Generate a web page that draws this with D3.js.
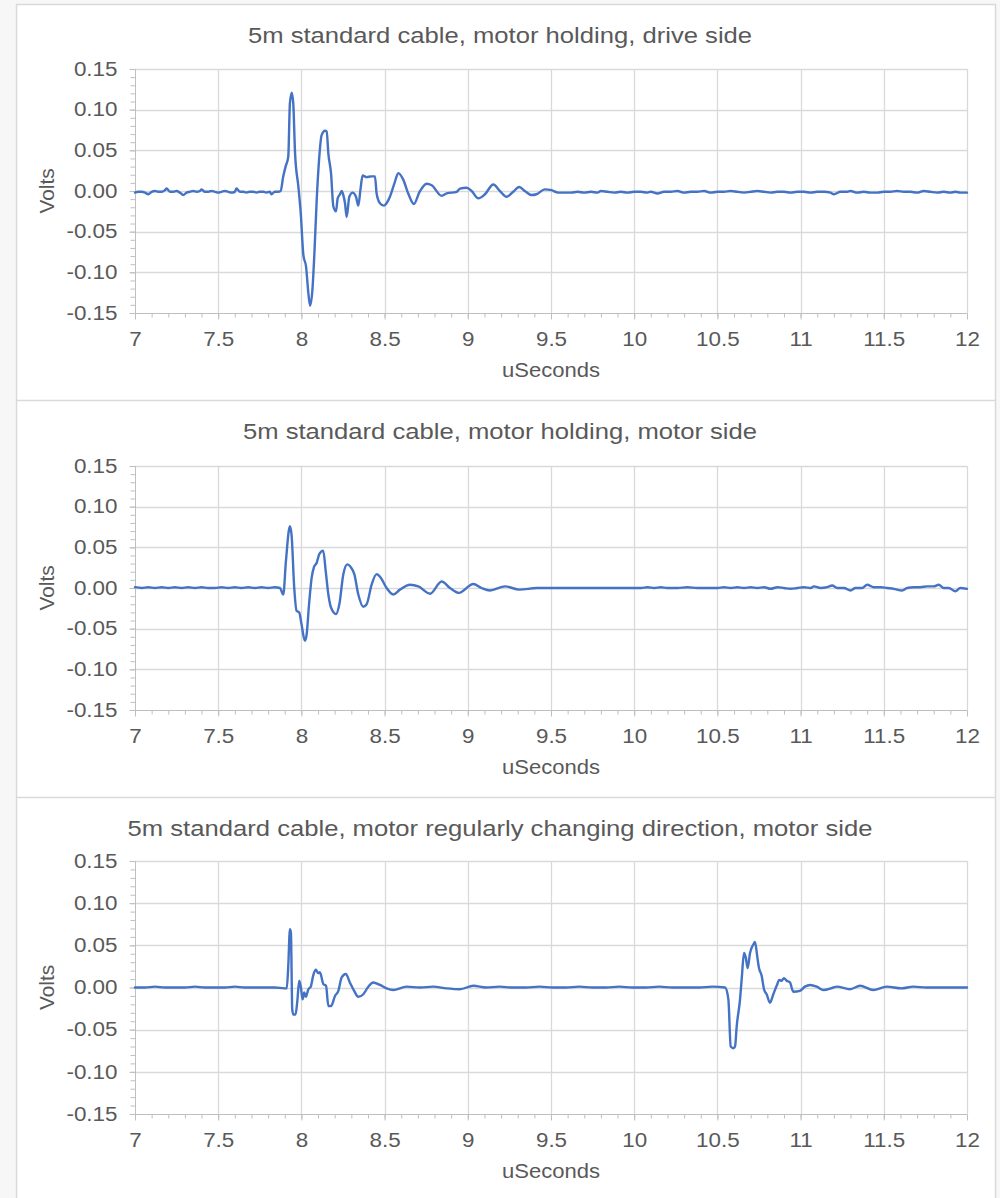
<!DOCTYPE html>
<html>
<head>
<meta charset="utf-8">
<script src="https://cdn.jsdelivr.net/npm/d3@7"></script>
<style>
  html, body { margin: 0; padding: 0; background: #f7f7f7; }
  svg { display: block; }
  text { font-family: "Liberation Sans", Arial, sans-serif; fill: #595959; }
</style>
</head>
<body>
<svg id="chart" width="1000" height="1198"></svg>
<script>
// ---------------- DATA ----------------
const chartTitles = [
  "5m standard cable, motor holding, drive side",
  "5m standard cable, motor holding, motor side",
  "5m standard cable, motor regularly changing direction, motor side"
];
const xAxisTitle = "uSeconds";
const yAxisTitle = "Volts";
const xTicks = [7, 7.5, 8, 8.5, 9, 9.5, 10, 10.5, 11, 11.5, 12];
const xTickLabels = ["7", "7.5", "8", "8.5", "9", "9.5", "10", "10.5", "11", "11.5", "12"];
const yTicks = [-0.15, -0.10, -0.05, 0.00, 0.05, 0.10, 0.15];
const yTickLabels = ["-0.15", "-0.10", "-0.05", "0.00", "0.05", "0.10", "0.15"];

// Series 1: drive side, motor holding
const s1Time = [
  7.00,7.02,7.04,7.06,7.08,7.10,7.12,7.14,7.16,7.18,7.19,7.21,7.23,7.25,7.27,7.29,7.31,7.33,7.35,7.37,
  7.39,7.40,7.42,7.44,7.46,7.48,7.50,7.52,7.54,7.56,7.58,7.60,7.61,7.63,7.65,7.67,7.69,7.71,7.73,7.75,
  7.77,7.79,7.81,7.82,7.84,7.86,7.875,
  7.891,7.905,7.921,7.931,7.942,7.951,7.962,7.982,7.996,8.012,8.028,8.042,8.052,8.066,8.078,8.092,8.106,8.122,
  8.142,8.152,8.162,8.178,8.192,8.208,8.218,8.232,8.242,8.252,8.262,8.272,8.288,8.308,8.328,8.342,8.355,8.368,
  8.392,8.420,8.442,8.452,8.472,8.496,8.515,8.532,8.560,8.582,8.612,8.642,8.676,8.710,8.753,8.783,8.843,8.873,
  8.933,8.953,8.993,9.023,9.063,9.103,9.153,9.193,9.233,9.273,9.309,9.343,9.383,9.413,9.463,9.503,9.543,
  9.58,9.62,9.66,9.70,9.74,9.78,9.80,9.84,9.88,9.92,9.96,10.00,10.04,10.08,10.10,10.14,10.18,10.22,10.26,10.30,
  10.34,10.38,10.42,10.46,10.50,10.54,10.58,10.62,10.66,10.70,10.74,10.78,10.82,10.86,10.90,10.94,10.98,11.02,
  11.06,11.10,11.14,11.18,11.20,11.24,11.28,11.30,11.34,11.38,11.42,11.46,11.50,11.54,11.58,11.62,11.66,11.70,
  11.74,11.78,11.82,11.86,11.90,11.93,11.96,12.00
];
const s1Volts = [
  -0.002,-0.001,-0.001,-0.002,-0.004,-0.001,0.000,-0.001,-0.001,0.001,0.003,-0.001,-0.001,0.000,-0.002,-0.005,-0.002,-0.001,0.000,-0.001,
  0.000,0.002,-0.001,-0.001,0.000,-0.001,-0.002,-0.001,0.000,-0.001,-0.002,-0.001,0.003,-0.001,-0.001,-0.002,-0.001,-0.001,-0.002,-0.001,
  -0.001,-0.002,-0.001,-0.004,-0.001,-0.001,0.000,
  0.018,0.030,0.042,0.108,0.121,0.108,0.046,0.005,-0.027,-0.079,-0.093,-0.126,-0.141,-0.122,-0.077,-0.011,0.038,0.069,
  0.074,0.073,0.046,0.022,-0.019,-0.025,-0.009,-0.004,0.000,-0.005,-0.015,-0.032,-0.007,-0.002,-0.007,-0.018,0.002,0.019,
  0.017,0.018,0.018,-0.003,-0.015,-0.018,-0.014,-0.007,0.010,0.022,0.014,-0.003,-0.016,-0.001,0.009,0.007,-0.006,-0.003,
  -0.001,0.003,0.004,0.000,-0.009,-0.004,0.008,0.000,-0.007,-0.001,0.005,0.000,-0.005,-0.004,0.002,0.001,-0.002,
  -0.002,-0.002,-0.001,-0.002,-0.001,-0.002,0.000,-0.001,-0.002,-0.001,-0.002,-0.001,-0.001,-0.002,-0.001,-0.003,-0.001,-0.001,0.000,-0.002,
  -0.001,-0.001,0.000,-0.002,-0.001,-0.001,0.000,-0.001,-0.002,-0.001,0.000,-0.001,-0.002,-0.001,-0.001,-0.002,-0.001,-0.001,
  -0.002,-0.001,-0.001,-0.002,-0.004,-0.001,-0.001,0.000,-0.002,-0.001,-0.002,-0.002,-0.001,-0.001,0.000,-0.001,-0.001,-0.002,
  0.000,-0.001,-0.002,-0.001,-0.002,-0.001,-0.002,-0.002
];

// Series 2: motor side, motor holding
const s2Time = [
  7.00,7.04,7.08,7.12,7.16,7.20,7.24,7.28,7.32,7.36,7.40,7.44,7.48,7.52,7.56,7.60,7.64,7.68,7.72,7.76,7.80,7.84,7.871,
  7.891,7.907,7.931,7.941,7.957,7.971,7.987,8.001,8.021,8.031,8.046,8.062,8.076,8.092,8.108,8.131,8.146,8.162,8.178,
  8.208,8.228,8.252,8.276,8.296,8.318,8.342,8.372,8.392,8.422,8.452,8.476,8.512,8.552,8.592,8.653,8.703,8.773,8.843,
  8.893,8.947,9.033,9.083,9.133,9.224,9.310,9.414,
  9.50,9.58,9.66,9.74,9.82,9.90,9.98,10.04,10.08,10.12,10.16,10.20,10.26,10.32,10.38,10.44,10.50,10.54,10.58,10.62,
  10.66,10.70,10.74,10.78,10.82,10.86,10.90,10.94,10.98,11.02,11.06,11.08,11.12,11.16,11.19,11.22,11.26,11.30,11.33,
  11.37,11.40,11.44,11.48,11.52,11.56,11.61,11.64,11.68,11.72,11.76,11.80,11.83,11.86,11.89,11.93,11.96,12.00
];
const s2Volts = [
  0.001,0.000,0.001,0.000,0.001,0.000,0.001,0.000,0.001,0.000,0.001,0.000,0.000,0.001,0.000,0.001,0.000,0.001,0.000,0.001,0.000,0.001,0.000,
  -0.008,0.033,0.076,0.065,0.000,-0.028,-0.030,-0.045,-0.065,-0.058,-0.020,0.013,0.026,0.031,0.042,0.046,0.021,-0.008,-0.024,
  -0.032,-0.020,0.017,0.029,0.026,0.017,-0.008,-0.023,-0.020,0.004,0.017,0.013,0.000,-0.008,-0.002,0.004,0.002,-0.007,0.008,
  0.000,-0.006,0.005,0.000,-0.003,0.002,-0.002,0.000,
  0.000,0.000,0.000,0.000,0.000,0.000,0.000,0.000,0.001,0.000,0.001,0.000,0.000,0.001,0.000,0.000,0.000,0.001,0.000,0.001,
  0.000,0.001,0.000,0.001,-0.001,0.001,0.000,-0.001,0.000,0.001,0.000,0.002,0.000,0.001,0.003,0.000,0.000,-0.003,0.000,
  0.000,0.004,0.001,0.001,0.000,-0.001,-0.003,0.000,0.001,0.001,0.002,0.002,0.004,0.000,0.000,-0.004,0.000,-0.001
];

// Series 3: motor side, motor regularly changing direction
const s3Time = [
  7.00,7.06,7.12,7.18,7.24,7.30,7.36,7.42,7.48,7.54,7.60,7.66,7.72,7.78,7.84,7.90,7.912,
  7.921,7.931,7.937,7.945,7.951,7.965,7.975,7.987,7.997,8.007,8.017,8.027,8.042,8.056,8.072,8.087,8.101,8.111,8.132,
  8.148,8.162,8.178,8.202,8.222,8.242,8.267,8.291,8.317,8.342,8.372,8.402,8.432,8.472,8.512,8.552,8.632,8.712,8.792,
  8.872,8.953,9.033,9.11,9.19,9.27,9.35,9.43,9.51,9.59,9.67,9.75,9.83,9.91,9.99,10.07,10.15,10.23,10.31,10.39,10.47,10.546,
  10.566,10.580,10.596,10.606,10.616,10.636,10.646,10.660,10.670,10.682,10.696,10.716,10.726,10.740,10.750,10.766,
  10.780,10.796,10.816,10.836,10.856,10.872,10.886,10.900,10.916,10.936,10.956,10.996,11.026,11.057,11.097,11.137,
  11.197,11.217,11.297,11.357,11.437,11.517,11.607,11.677,11.757,11.837,11.917,12.00
];
const s3Volts = [
  0.000,0.000,0.001,0.000,0.000,0.000,0.001,0.000,0.000,0.000,0.001,0.000,0.000,0.000,0.000,-0.001,-0.001,
  0.025,0.069,0.065,-0.026,-0.032,-0.032,-0.017,0.008,0.000,-0.014,-0.006,-0.011,-0.002,0.001,0.015,0.021,0.017,0.018,0.004,
  0.002,-0.022,-0.022,-0.010,-0.004,0.012,0.016,0.006,-0.004,-0.011,-0.008,0.001,0.006,0.003,-0.001,-0.003,0.001,0.000,0.001,
  -0.001,-0.002,0.002,0.000,0.001,0.000,0.000,0.001,0.000,0.000,0.001,0.000,0.000,0.001,0.000,0.000,0.001,0.000,0.000,0.000,0.001,0.000,
  -0.014,-0.070,-0.072,-0.070,-0.046,-0.014,0.010,0.041,0.036,0.023,0.041,0.051,0.054,0.036,0.023,0.014,
  -0.002,-0.008,-0.018,-0.008,0.002,0.009,0.008,0.011,0.008,0.006,-0.005,-0.004,0.001,0.003,0.001,-0.003,
  0.000,0.001,-0.002,0.002,-0.003,0.001,-0.001,0.001,0.000,0.000,0.000,0.000
];

const seriesTimes = [s1Time, s2Time, s3Time];
const seriesVolts = [s1Volts, s2Volts, s3Volts];

// ---------------- LAYOUT ----------------
const frame = { left: 16, right: 996, top: 4, bottom: 1198 };
const panelTops = [4, 400, 797];
const plots = [
  { top: 69, bottom: 313 },
  { top: 466, bottom: 710 },
  { top: 861, bottom: 1114 }
];
const plotLeft = 135, plotRight = 967;
const lineColor = "#4472C4";
const gridColor = "#d9d9d9";
const axisColor = "#bfbfbf";
const SX = 1.15;          // horizontal glyph stretch to match reference font width
const FONT = '"Liberation Sans", Arial, sans-serif';

const svg = d3.select("#chart");

// frame & separators
svg.append("rect")
  .attr("x", frame.left + 0.5).attr("y", frame.top + 0.5)
  .attr("width", frame.right - frame.left - 1).attr("height", frame.bottom - frame.top + 2)
  .attr("fill", "#ffffff").attr("stroke", gridColor).attr("stroke-width", 1.5);
[400, 797].forEach(yy => {
  svg.append("line").attr("x1", frame.left).attr("x2", frame.right)
    .attr("y1", yy + 0.5).attr("y2", yy + 0.5)
    .attr("stroke", gridColor).attr("stroke-width", 1.5);
});

const x = d3.scaleLinear().domain([7, 12]).range([plotLeft, plotRight]);
const xMinor = d3.range(70, 121).map(d => d / 10);
const yMinor = d3.range(-15, 16).map(d => d / 100);

function stretchedText(parent, cx, cy, str, size, sx, rotate) {
  const t = parent.append("text")
    .attr("transform", `translate(${cx},${cy})${rotate ? " rotate(-90)" : ""} scale(${sx},1)`)
    .attr("text-anchor", "middle").attr("dominant-baseline", "central")
    .attr("font-size", size).text(str);
  return t;
}

plots.forEach((p, i) => {
  const y = d3.scaleLinear().domain([-0.15, 0.15]).range([p.bottom, p.top]);
  const g = svg.append("g");

  // grid
  g.append("g").selectAll("line").data(yTicks.filter(d => d > -0.15)).join("line")
    .attr("x1", plotLeft).attr("x2", plotRight)
    .attr("y1", d => Math.round(y(d)) + 0.5).attr("y2", d => Math.round(y(d)) + 0.5)
    .attr("stroke", gridColor).attr("stroke-width", 1.3);
  g.append("g").selectAll("line").data(xTicks.filter(d => d > 7)).join("line")
    .attr("x1", d => Math.round(x(d)) + 0.5).attr("x2", d => Math.round(x(d)) + 0.5)
    .attr("y1", p.top).attr("y2", p.bottom)
    .attr("stroke", gridColor).attr("stroke-width", 1.3);

  // minor ticks
  const yMinorAxis = d3.axisLeft(y).tickValues(yMinor).tickSize(5).tickFormat("");
  g.append("g").attr("transform", `translate(${plotLeft + 0.5},0)`).call(yMinorAxis)
    .call(a => a.select(".domain").remove())
    .call(a => a.selectAll("line").attr("stroke", axisColor));
  const xMinorAxis = d3.axisBottom(x).tickValues(xMinor).tickSize(4).tickFormat("");
  g.append("g").attr("transform", `translate(0,${p.bottom + 0.5})`).call(xMinorAxis)
    .call(a => a.select(".domain").remove())
    .call(a => a.selectAll("line").attr("stroke", axisColor));

  // major axes
  const yAxis = d3.axisLeft(y).tickValues(yTicks).tickSize(6).tickPadding(12)
    .tickFormat((d, k) => yTickLabels[k]);
  g.append("g").attr("transform", `translate(${plotLeft + 0.5},0)`).call(yAxis)
    .call(a => a.select(".domain").attr("stroke", axisColor).attr("d", `M0,${p.top}V${p.bottom}`))
    .call(a => a.selectAll("line").attr("stroke", axisColor))
    .call(a => a.selectAll("text").attr("font-size", 19.5).attr("fill", "#595959")
      .attr("font-family", FONT)
      .attr("x", -18 / SX).attr("transform", `scale(${SX},1)`));
  const xAxis = d3.axisBottom(x).tickValues(xTicks).tickSize(6).tickPadding(13)
    .tickFormat((d, k) => xTickLabels[k]);
  g.append("g").attr("transform", `translate(0,${p.bottom + 0.5})`).call(xAxis)
    .call(a => a.select(".domain").attr("stroke", axisColor).attr("d", `M${plotLeft},0H${plotRight}`))
    .call(a => a.selectAll("line").attr("stroke", axisColor))
    .call(a => a.selectAll("text").attr("font-size", 19.5).attr("fill", "#595959")
      .attr("font-family", FONT).attr("transform", `scale(${SX},1)`));

  // series line
  const pts = seriesTimes[i].map((t, k) => [t, seriesVolts[i][k]]);
  const line = d3.line().x(d => x(d[0])).y(d => y(d[1])).curve(d3.curveMonotoneX);
  g.append("path").datum(pts)
    .attr("d", line)
    .attr("fill", "none").attr("stroke", lineColor)
    .attr("stroke-width", 2.4).attr("stroke-linejoin", "round").attr("stroke-linecap", "round");

  // titles
  stretchedText(g, 500, panelTops[i] + 31, chartTitles[i], 22, 1.165, false);
  stretchedText(g, (plotLeft + plotRight) / 2, p.bottom + 57, xAxisTitle, 19.5, 1.13, false);
  stretchedText(g, 47, (p.top + p.bottom) / 2, yAxisTitle, 19.5, 1.07, true);
});
</script>
</body>
</html>
